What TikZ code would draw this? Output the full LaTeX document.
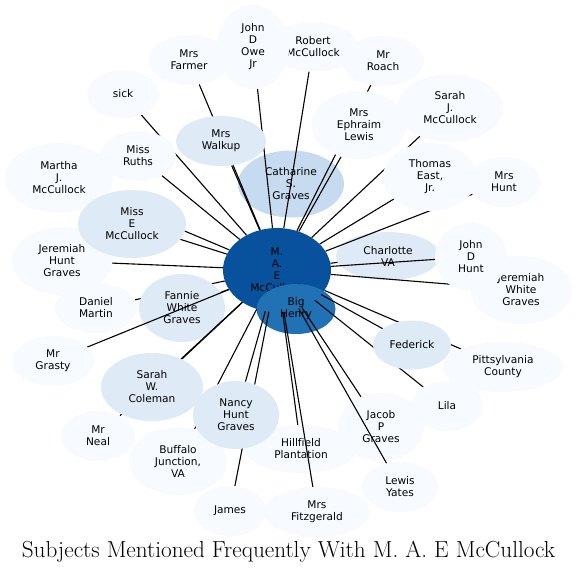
\documentclass[tikz,border=0pt]{standalone}
\usepackage{fontspec}
\newfontfamily\dv[Ligatures=NoCommon]{DejaVu Sans}
\usetikzlibrary{shapes.geometric}
\definecolor{c0}{HTML}{08519C}
\definecolor{c1}{HTML}{2171B5}
\definecolor{c2}{HTML}{C6DBEF}
\definecolor{c3}{HTML}{DEEBF7}
\definecolor{c4}{HTML}{F7FBFF}
\pgfdeclarelayer{bg}
\pgfdeclarelayer{lowA}
\pgfdeclarelayer{edgeA}
\pgfdeclarelayer{lowB}
\pgfdeclarelayer{top}
\pgfsetlayers{bg,lowA,edgeA,lowB,main,top}
\tikzset{
  bub/.style={ellipse, inner sep=0pt, align=center, text=black,
    font=\dv\fontsize{10.6}{12}\selectfont},
  edgeline/.style={draw=black, line width=1.1pt},
}
\newcommand\bubble[7]{\node[bub, fill=#6, minimum width=#4pt, minimum height=#5pt] (#1) at (#2,#3) {#7};}
\begin{document}
\begin{tikzpicture}[x=1pt,y=-1pt]
\begin{pgfonlayer}{bg}
\fill[white] (0,0) rectangle (577,574);
\end{pgfonlayer}
\useasboundingbox (0,0) rectangle (577,574);
\begin{pgfonlayer}{lowA}
\bubble{mae}{277}{270}{108}{84}{c0}{M.\\A.\\E\\McCullock}
\bubble{bh}{296}{309}{79}{50}{c1}{Big\\Henry}
\bubble{cath}{291}{184}{106}{67}{c2}{Catharine\\S.\\Graves}
\bubble{charl}{388}{256}{104}{48}{c3}{Charlotte\\VA}
\bubble{jacob}{381}{427}{86}{68}{c4}{Jacob\\P\\Graves}
\bubble{hill}{301}{449}{112}{48}{c4}{Hillfield\\Plantation}
\end{pgfonlayer}
\begin{pgfonlayer}{lowB}
\bubble{fannie}{182}{308}{86}{68}{c3}{Fannie\\White\\Graves}
\end{pgfonlayer}
\begin{pgfonlayer}{top}
\bubble{farmer}{189}{60}{82}{50}{c4}{Mrs\\Farmer}
\bubble{robert}{313}{47}{90}{49}{c4}{Robert\\McCullock}
\bubble{owe}{253}{47}{72}{84}{c4}{John\\D\\Owe\\Jr}
\bubble{roach}{383}{61}{82}{50}{c4}{Mr\\Roach}
\bubble{ephraim}{359}{125}{95}{68}{c4}{Mrs\\Ephraim\\Lewis}
\bubble{sarahj}{450}{108}{106}{68}{c4}{Sarah\\J.\\McCullock}
\bubble{thomas}{430}{177}{94}{68}{c4}{Thomas\\East,\\Jr.}
\bubble{mrshunt}{504}{182}{72}{50}{c4}{Mrs\\Hunt}
\bubble{sick}{123}{94}{72}{48}{c4}{sick}
\bubble{walkup}{221}{141}{90}{50}{c3}{Mrs\\Walkup}
\bubble{martha}{59}{178}{108}{70}{c4}{Martha\\J.\\McCullock}
\bubble{ruths}{138}{156}{76}{50}{c4}{Miss\\Ruths}
\bubble{jhg}{62}{261}{100}{68}{c4}{Jeremiah\\Hunt\\Graves}
\bubble{misse}{132}{224}{108}{68}{c3}{Miss\\E\\McCullock}
\bubble{daniel}{96}{308}{82}{50}{c4}{Daniel\\Martin}
\bubble{grasty}{53}{361}{82}{50}{c4}{Mr\\Grasty}
\bubble{neal}{98}{436}{74}{50}{c4}{Mr\\Neal}
\bubble{coleman}{152}{387}{102}{68}{c3}{Sarah\\W.\\Coleman}
\bubble{buffalo}{178}{461}{98}{68}{c4}{Buffalo\\Junction,\\VA}
\bubble{nancy}{236}{415}{86}{68}{c3}{Nancy\\Hunt\\Graves}
\bubble{james}{230}{511}{72}{50}{c4}{James}
\bubble{fitz}{317}{512}{106}{50}{c4}{Mrs\\Fitzgerald}
\bubble{lewis}{400}{487}{76}{50}{c4}{Lewis\\Yates}
\bubble{lila}{447}{406}{72}{50}{c4}{Lila}
\bubble{federick}{412}{345}{78}{49}{c3}{Federick}
\bubble{pitts}{503}{367}{120}{50}{c4}{Pittsylvania\\County}
\bubble{jwg}{521}{290}{102}{68}{c4}{Jeremiah\\White\\Graves}
\bubble{jdh}{471}{257}{72}{68}{c4}{John\\D\\Hunt}
\end{pgfonlayer}
\begin{pgfonlayer}{edgeA}
\draw[edgeline] (mae) -- (daniel);
\end{pgfonlayer}
\foreach \t in {sick,farmer,walkup,owe,robert,roach,ephraim,sarahj,thomas,mrshunt,charl,jdh,jwg,federick,pitts,lila,jacob,lewis,hill,fitz,nancy,james,buffalo,coleman,neal,fannie,grasty,jhg,misse,martha,ruths}
  \draw[edgeline] (mae) -- (\t);
\node[anchor=base, inner sep=0pt, font=\fontsize{23.2}{26}\selectfont] (title) at (288.5,557) {Subjects Mentioned Frequently With M. A. E McCullock};
\end{tikzpicture}
\end{document}
